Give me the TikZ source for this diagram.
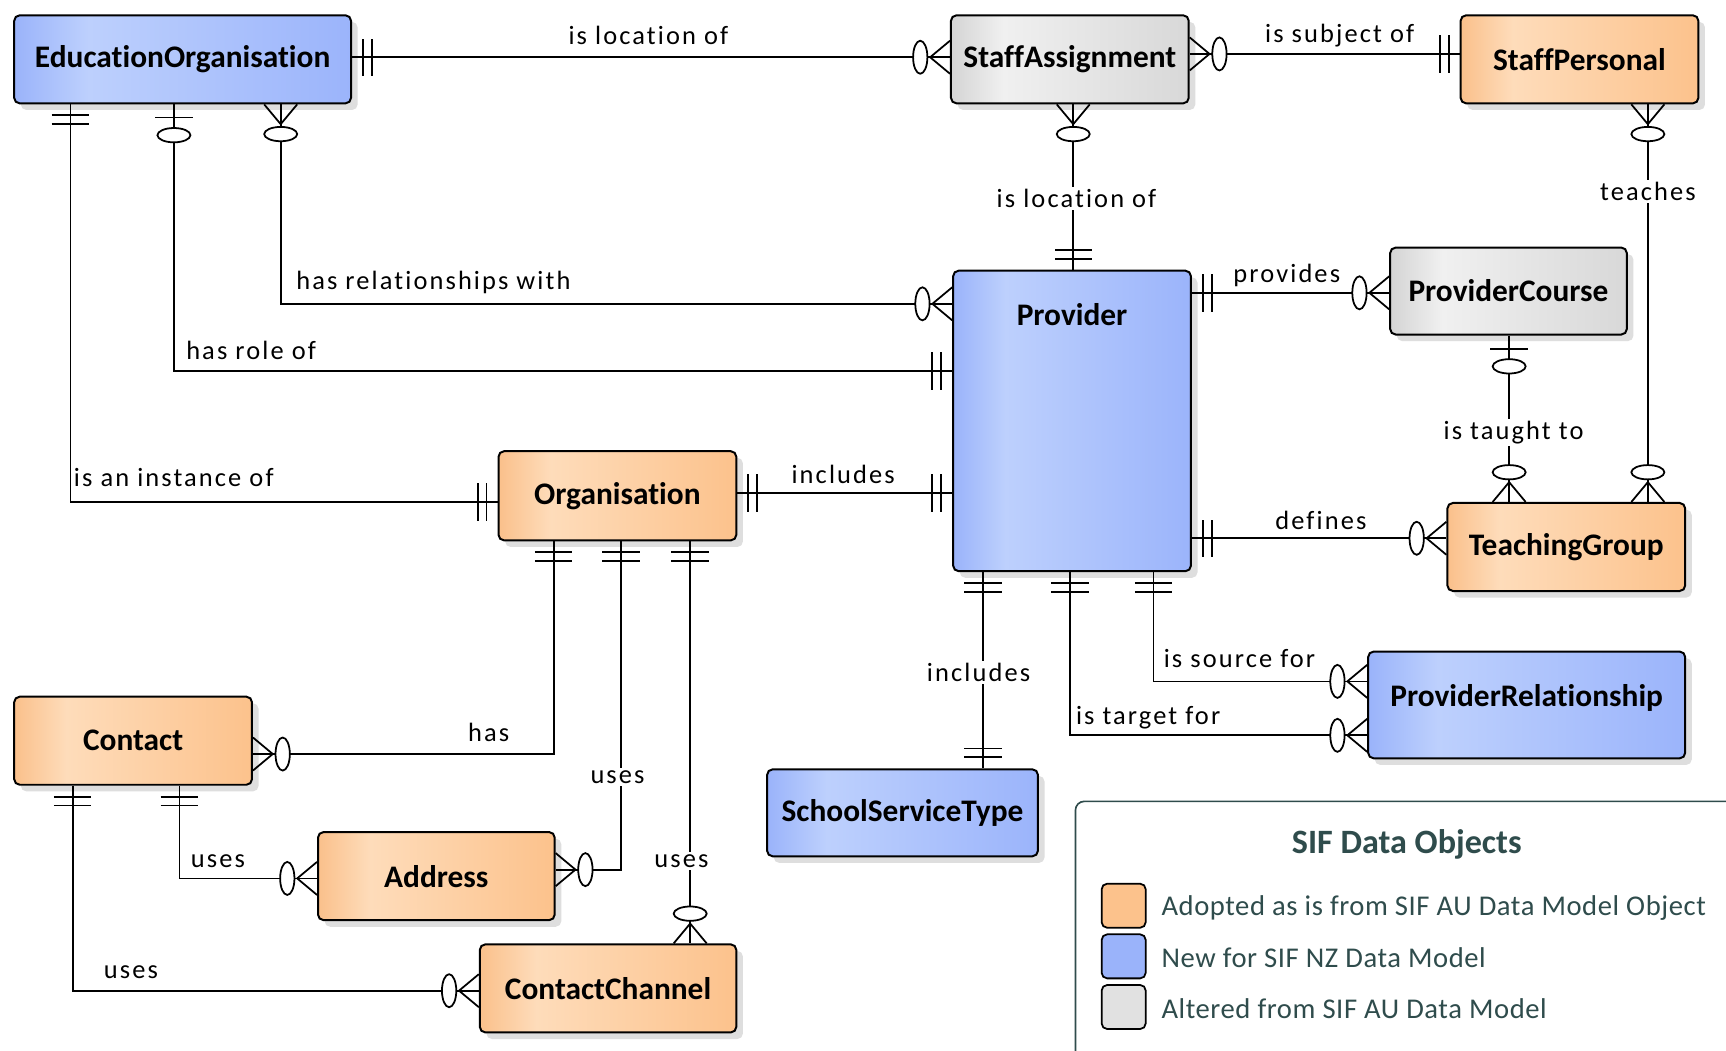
\documentclass[tikz,border=0pt]{standalone}
\usepackage{fontspec}
\setmainfont{Carlito}[Ligatures=NoCommon]
\newfontfamily\lblfamily{Carlito}[LetterSpace=8,Ligatures=NoCommon]
\newfontfamily\legfamily{Carlito}[LetterSpace=2,Ligatures=NoCommon]
\usetikzlibrary{shadows}
\definecolor{oE}{HTML}{FAC08B}
\definecolor{oL}{HTML}{FEDCBA}
\definecolor{oR}{HTML}{FCC28C}
\definecolor{bE}{HTML}{9AB3FA}
\definecolor{bL}{HTML}{BDD0FD}
\definecolor{bR}{HTML}{9BB4FB}
\definecolor{gE}{HTML}{D4D4D4}
\definecolor{gL}{HTML}{F0F0F0}
\definecolor{gR}{HTML}{D8D8D8}
\definecolor{legc}{HTML}{2F4C4C}
\definecolor{shadowc}{HTML}{DEDEDE}
\pgfdeclarehorizontalshading{orsh}{100bp}{color(0bp)=(oE); color(25bp)=(oE); color(36bp)=(oL); color(75bp)=(oR); color(100bp)=(oR)}
\pgfdeclarehorizontalshading{blsh}{100bp}{color(0bp)=(bE); color(25bp)=(bE); color(36bp)=(bL); color(75bp)=(bR); color(100bp)=(bR)}
\pgfdeclarehorizontalshading{grsh}{100bp}{color(0bp)=(gE); color(25bp)=(gE); color(36bp)=(gL); color(75bp)=(gR); color(100bp)=(gR)}
\tikzset{
  entity/.style={draw=black, line width=1.8pt, rounded corners=5pt, inner sep=0pt,
    anchor=north west, font=\fontsize{28.5}{31}\selectfont\bfseries, shade,
    drop shadow={shadow xshift=6pt, shadow yshift=-6pt, fill=shadowc, opacity=1, draw=none}},
  orangebox/.style={entity, shading=orsh},
  bluebox/.style={entity, shading=blsh},
  graybox/.style={entity, shading=grsh},
  conn/.style={line width=1.6pt, draw=black},
  mk/.style={line width=1.6pt, draw=black},
  lbl/.style={font=\lblfamily\fontsize{24}{27}\selectfont, inner sep=1pt},
  lblw/.style={lbl, fill=white, inner sep=2pt},
  swatch/.style={draw=black, line width=1.6pt, rounded corners=5pt, minimum width=40pt, minimum height=40pt, inner sep=0pt, anchor=north west},
  legtext/.style={font=\legfamily\fontsize{26}{29}\selectfont, text=legc, anchor=west, inner sep=0pt}
}
\newcommand\ERone{\draw[mk] (10,-17)--(10,17) (18,-17)--(18,17);}
\newcommand\ERzm{\draw[mk] (0,15)--(18,0)--(0,-15); \draw[mk,fill=white] (27,0) ellipse [x radius=6.5, y radius=15];}
\newcommand\ERzo{\draw[mk] (12,-17)--(12,17); \draw[mk,fill=white] (28,0) ellipse [x radius=6.5, y radius=15];}
\newcommand\ERmark[3]{\begin{scope}[shift={#1},rotate=#2]#3\end{scope}}
\begin{document}
\begin{tikzpicture}[x=1pt,y=1pt]
\useasboundingbox (0,0) rectangle (1568,-954);
\fill[white] (0,0) rectangle (1568,-954);

% entities
\node[bluebox, minimum width=306pt, minimum height=80pt] (eduorg) at (12,-13) {EducationOrganisation};
\node[graybox, minimum width=216pt, minimum height=80pt] (sa) at (863,-13) {StaffAssignment};
\node[orangebox, minimum width=216pt, minimum height=80pt] (sp) at (1326,-13) {StaffPersonal};
\node[bluebox, minimum width=216pt, text height=50pt, text depth=223pt] (prov) at (865,-245) {Provider};
\node[graybox, minimum width=215pt, minimum height=79pt] (pc) at (1262,-224) {ProviderCourse};
\node[orangebox, minimum width=216pt, minimum height=81pt] (org) at (452,-409) {Organisation};
\node[orangebox, minimum width=216pt, minimum height=80pt] (tg) at (1314,-456) {TeachingGroup};
\node[orangebox, minimum width=216pt, minimum height=80pt] (contact) at (12,-632) {Contact};
\node[orangebox, minimum width=215pt, minimum height=80pt] (address) at (288,-755) {Address};
\node[orangebox, minimum width=233pt, minimum height=80pt] (cc) at (435,-857) {ContactChannel};
\node[bluebox, minimum width=246pt, minimum height=79pt] (sst) at (696,-698) {SchoolServiceType};
\node[bluebox, minimum width=288pt, text height=50pt, text depth=47pt] (pr) at (1242,-591) {ProviderRelationship};

% connectors
\draw[conn] (eduorg.east |- 0,-52) -- (sa.west |- 0,-52);
\draw[conn] (sa.east |- 0,-49) -- (sp.west |- 0,-49);
\draw[conn] (sa.south -| 975,0) -- (prov.north -| 975,0);
\draw[conn] (sp.south -| 1497,0) -- (tg.north -| 1497,0);
\draw[conn] (prov.east |- 0,-266) -- (pc.west |- 0,-266);
\draw[conn] (pc.south -| 1371,0) -- (tg.north -| 1371,0);
\draw[conn] (prov.east |- 0,-489) -- (tg.west |- 0,-489);
\draw[conn] (eduorg.south -| 255,0) |- (prov.west |- 0,-276);
\draw[conn] (eduorg.south -| 158,0) |- (prov.west |- 0,-337);
\draw[conn] (eduorg.south -| 64,0) |- (org.west |- 0,-456);
\draw[conn] (org.east |- 0,-448) -- (prov.west |- 0,-448);
\draw[conn] (org.south -| 503,0) |- (contact.east |- 0,-685);
\draw[conn] (org.south -| 564,0) |- (address.east |- 0,-790);
\draw[conn] (org.south -| 627,0) -- (cc.north -| 627,0);
\draw[conn] (contact.south -| 163,0) |- (address.west |- 0,-798);
\draw[conn] (contact.south -| 66,0) |- (cc.west |- 0,-900);
\draw[conn] (prov.south -| 893,0) -- (sst.north -| 893,0);
\draw[conn] (prov.south -| 1048,0) |- (pr.west |- 0,-619);
\draw[conn] (prov.south -| 972,0) |- (pr.west |- 0,-668);

% end markers
\ERmark{(eduorg.east |- 0,-52)}{0}{\ERone}
\ERmark{(sa.west |- 0,-52)}{180}{\ERzm}
\ERmark{(sa.east |- 0,-49)}{0}{\ERzm}
\ERmark{(sp.west |- 0,-49)}{180}{\ERone}
\ERmark{(sa.south -| 975,0)}{-90}{\ERzm}
\ERmark{(prov.north -| 975,0)}{90}{\ERone}
\ERmark{(sp.south -| 1497,0)}{-90}{\ERzm}
\ERmark{(tg.north -| 1497,0)}{90}{\ERzm}
\ERmark{(prov.east |- 0,-266)}{0}{\ERone}
\ERmark{(pc.west |- 0,-266)}{180}{\ERzm}
\ERmark{(pc.south -| 1371,0)}{-90}{\ERzo}
\ERmark{(tg.north -| 1371,0)}{90}{\ERzm}
\ERmark{(prov.east |- 0,-489)}{0}{\ERone}
\ERmark{(tg.west |- 0,-489)}{180}{\ERzm}
\ERmark{(eduorg.south -| 255,0)}{-90}{\ERzm}
\ERmark{(prov.west |- 0,-276)}{180}{\ERzm}
\ERmark{(eduorg.south -| 158,0)}{-90}{\ERzo}
\ERmark{(prov.west |- 0,-337)}{180}{\ERone}
\ERmark{(eduorg.south -| 64,0)}{-90}{\ERone}
\ERmark{(org.west |- 0,-456)}{180}{\ERone}
\ERmark{(org.east |- 0,-448)}{0}{\ERone}
\ERmark{(prov.west |- 0,-448)}{180}{\ERone}
\ERmark{(org.south -| 503,0)}{-90}{\ERone}
\ERmark{(contact.east |- 0,-685)}{0}{\ERzm}
\ERmark{(org.south -| 564,0)}{-90}{\ERone}
\ERmark{(address.east |- 0,-790)}{0}{\ERzm}
\ERmark{(org.south -| 627,0)}{-90}{\ERone}
\ERmark{(cc.north -| 627,0)}{90}{\ERzm}
\ERmark{(contact.south -| 163,0)}{-90}{\ERone}
\ERmark{(address.west |- 0,-798)}{180}{\ERzm}
\ERmark{(contact.south -| 66,0)}{-90}{\ERone}
\ERmark{(cc.west |- 0,-900)}{180}{\ERzm}
\ERmark{(prov.south -| 893,0)}{-90}{\ERone}
\ERmark{(sst.north -| 893,0)}{90}{\ERone}
\ERmark{(prov.south -| 1048,0)}{-90}{\ERone}
\ERmark{(pr.west |- 0,-619)}{180}{\ERzm}
\ERmark{(prov.south -| 972,0)}{-90}{\ERone}
\ERmark{(pr.west |- 0,-668)}{180}{\ERzm}

% labels
\node[lbl] (l1) at (589,-32) {is location of};
\node[lbl] (l2) at (1217,-32) {is subject of};
\node[lblw] (l3) at (978,-180) {is location of};
\node[lblw] (l4) at (1497,-174) {teaches};
\node[lbl] (l5) at (1169,-250) {provides};
\node[lblw] (l6) at (1375,-393) {is taught to};
\node[lbl] (l7) at (1200,-473) {defines};
\node[lbl, anchor=west] (l8) at (268,-257) {has relationships with};
\node[lbl, anchor=west] (l9) at (168,-318) {has role of};
\node[lbl, anchor=west] (l10) at (66,-434) {is an instance of};
\node[lbl] (l11) at (766,-431) {includes};
\node[lbl] (l12) at (444,-665) {has};
\node[lblw] (l13) at (561,-706) {uses};
\node[lblw] (l14) at (619,-782) {uses};
\node[lbl] (l15) at (198,-782) {uses};
\node[lbl] (l16) at (119,-883) {uses};
\node[lblw] (l17) at (889,-611) {includes};
\node[lbl] (l18) at (1126,-598) {is source for};
\node[lbl] (l19) at (1043,-652) {is target for};

% legend
\draw[draw=legc, line width=1.5pt, rounded corners=8pt] (977,-970) -- (977,-728) -- (1590,-728);
\node[font=\fontsize{31}{34}\selectfont\bfseries, text=legc] (legtitle) at (1278,-767) {SIF Data Objects};
\node[swatch, fill=oR] (sw1) at (1000,-802) {};
\node[swatch, fill=bE] (sw2) at (1000,-848) {};
\node[swatch, fill=gE!70!white] (sw3) at (1000,-894) {};
\node[legtext] (lt1) at (1055,-825) {Adopted as is from SIF AU Data Model Object};
\node[legtext] (lt2) at (1055,-870) {New for SIF NZ Data Model};
\node[legtext] (lt3) at (1055,-916) {Altered from SIF AU Data Model};
\end{tikzpicture}
\end{document}
